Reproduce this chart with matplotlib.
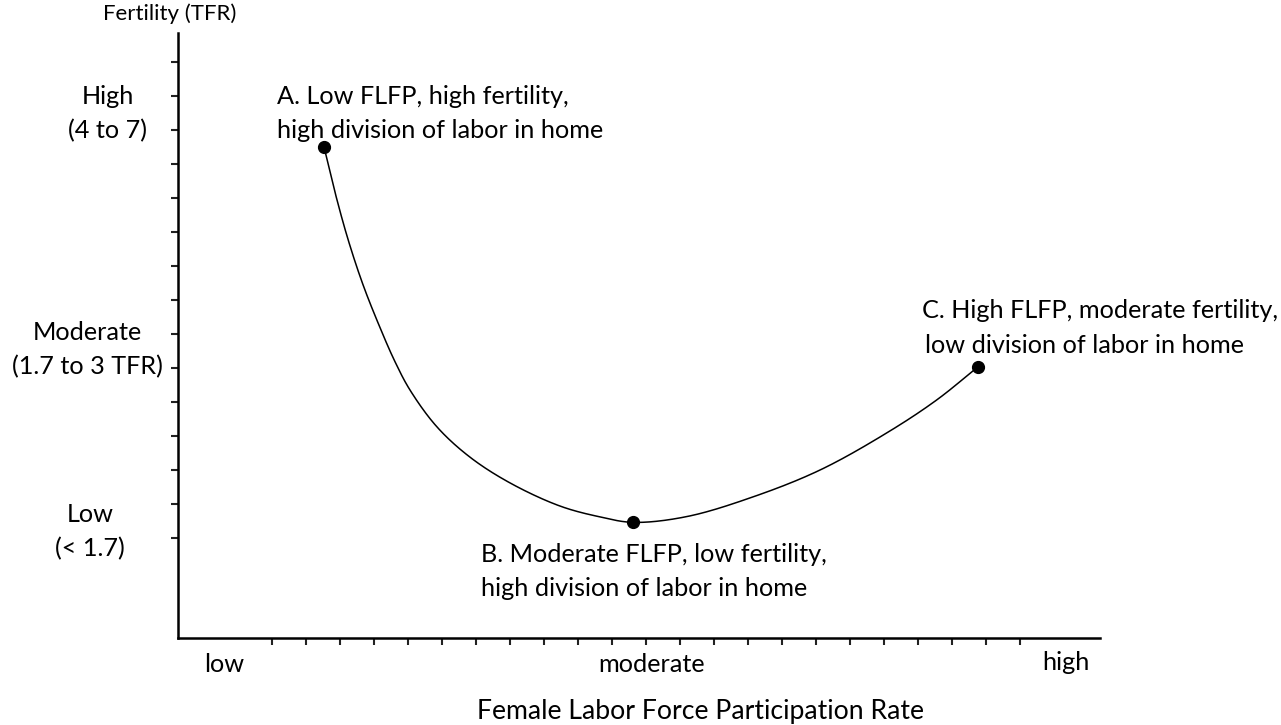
import matplotlib
matplotlib.use("Agg")
import matplotlib.pyplot as plt
import numpy as np

plt.rcParams['font.family'] = ['Lato', 'DejaVu Sans']

# Curve (x: FLFP tick units, y: fertility tick units)
curve_x = [2.53, 2.85, 3.24, 3.68, 4.18, 4.62, 5.06, 5.85, 6.82, 8.00, 9.47, 10.65, 11.62,
           13.20, 15.15, 17.12, 19.08, 20.55, 21.77]
curve_y = [12.50, 11.18, 9.77, 8.44, 7.18, 6.18, 5.35, 4.27, 3.38, 2.62, 1.94, 1.62, 1.46,
           1.63, 2.21, 3.00, 4.09, 5.06, 6.04]

point_x = [2.53, 11.62, 21.77]
point_y = [12.50, 1.46, 6.04]
point_labels = [["A. Low FLFP, high fertility,", "high division of labor in home"],
                ["B. Moderate FLFP, low fertility,", "high division of labor in home"],
                ["C. High FLFP, moderate fertility,", "low division of labor in home"]]

x_ticks = list(range(1, 24))
y_ticks = list(range(1, 16))
y_level_labels = [["High", "(4 to 7)"], ["Moderate", "(1.7 to 3 TFR)"], ["Low", "(< 1.7)"]]
x_level_labels = ["low", "moderate", "high"]

W, H = 1281, 725
fig = plt.figure(figsize=(W / 100, H / 100), dpi=100)
ax_left, ax_right, ax_top, ax_bottom = 178, 1100, 33, 638
ax = fig.add_axes([ax_left / W, 1 - ax_bottom / H, (ax_right - ax_left) / W, (ax_bottom - ax_top) / H])

def px2dx(p):
    return (p - 238) / 34.0

def py2dy(p):
    return (572 - p) / 34.0

ax.set_xlim(px2dx(ax_left), px2dx(ax_right))
ax.set_ylim(py2dy(ax_bottom), py2dy(ax_top))

# smooth rendering through the read points (centripetal Catmull-Rom)
def catmull_rom(xs, ys, n=40, alpha=0.5):
    P = np.column_stack([xs, ys]).astype(float)
    P = np.vstack([P[0] * 2 - P[1], P, P[-1] * 2 - P[-2]])
    out = []
    for i in range(1, len(P) - 2):
        p0, p1, p2, p3 = P[i - 1], P[i], P[i + 1], P[i + 2]
        t0 = 0.0
        t1 = t0 + np.linalg.norm(p1 - p0) ** alpha
        t2 = t1 + np.linalg.norm(p2 - p1) ** alpha
        t3 = t2 + np.linalg.norm(p3 - p2) ** alpha
        t = np.linspace(t1, t2, n, endpoint=False)[:, None]
        A1 = (t1 - t) / (t1 - t0) * p0 + (t - t0) / (t1 - t0) * p1
        A2 = (t2 - t) / (t2 - t1) * p1 + (t - t1) / (t2 - t1) * p2
        A3 = (t3 - t) / (t3 - t2) * p2 + (t - t2) / (t3 - t2) * p3
        B1 = (t2 - t) / (t2 - t0) * A1 + (t - t0) / (t2 - t0) * A2
        B2 = (t3 - t) / (t3 - t1) * A2 + (t - t1) / (t3 - t1) * A3
        C = (t2 - t) / (t2 - t1) * B1 + (t - t1) / (t2 - t1) * B2
        out.append(C)
    out.append(P[-2][None, :])
    out = np.vstack(out)
    return out[:, 0], out[:, 1]

sx, sy = catmull_rom(curve_x, curve_y)
ax.plot(sx, sy, color='black', lw=1.1, solid_capstyle='round')
ax.plot(point_x, point_y, 'o', color='black', ms=8.5)

for s in ['top', 'right']:
    ax.spines[s].set_visible(False)
for s in ['left', 'bottom']:
    ax.spines[s].set_linewidth(1.8)
ax.set_xticks(x_ticks)
ax.set_yticks(y_ticks)
ax.set_xticklabels([])
ax.set_yticklabels([])
ax.tick_params(axis='both', direction='out', length=5, width=1.5, color='#222222')

fs = 18.2
def ftext(x, y, s, size=fs, **kw):
    fig.text(x / W, 1 - y / H, s, fontsize=size, color='black', va='center', **kw)

ftext(170, 14, "Fertility (TFR)", size=16, ha='center')

# y level labels
for (l1, l2), xc, y1 in zip(y_level_labels, [108, 87, 90], [97, 333, 515]):
    ftext(xc, y1, l1, ha='center')
    ftext(xc, y1 + 34, l2, ha='center')

# x level labels
ftext(224, 665, x_level_labels[0], ha='center')
ftext(652, 665, x_level_labels[1], ha='center')
ftext(1066, 663, x_level_labels[2], ha='center')
ftext(700, 712, "Female Labor Force Participation Rate", size=19.2, ha='center')

# point annotations
ftext(277, 97, point_labels[0][0], ha='left')
ftext(277, 131, point_labels[0][1], ha='left')
ftext(481, 554, point_labels[1][0], ha='left')
ftext(481, 588, point_labels[1][1], ha='left')
ftext(1278, 311, point_labels[2][0], ha='right')
ftext(925, 345, point_labels[2][1], ha='left')

fig.savefig("out.png", dpi=100)
